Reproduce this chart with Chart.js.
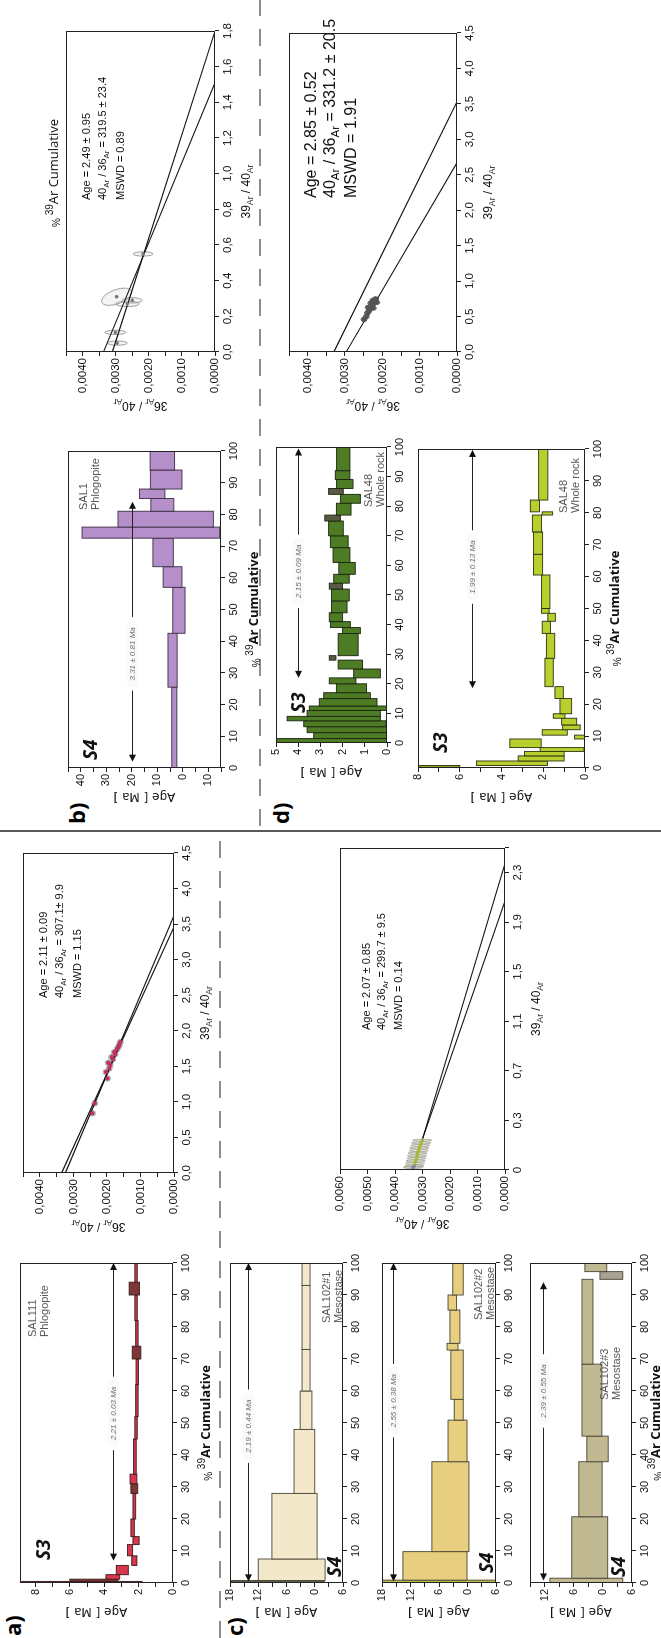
<!DOCTYPE html>
<html>
<head>
<meta charset="utf-8">
<title>Ar-Ar age spectra and isochrons</title>
<script src="https://cdn.jsdelivr.net/npm/chart.js@4.4.1/dist/chart.umd.min.js"></script>
<style>
  html, body { margin: 0; padding: 0; background: #fff; }
  body { width: 661px; height: 1638px; overflow: hidden; position: relative; }
  /* the figure is laid out in landscape and turned a quarter to the left */
  #land { position: absolute; left: 0; top: 0; width: 1638px; height: 661px;
          transform-origin: 0 0; transform: translate(0, 1638px) rotate(-90deg); }
  #land canvas, #land svg { position: absolute; }
  .tag { position: absolute; font: bold 22px "Open Sans", sans-serif; line-height: 24px; }
</style>
</head>
<body>
<div id="land">
  <svg width="1638" height="661" style="left:0;top:0">
    <line x1="807" y1="0" x2="807" y2="661" stroke="#222" stroke-width="1.5"/>
    <line x1="0" y1="220" x2="800" y2="220" stroke="#444" stroke-width="1.2" stroke-dasharray="17 13"/>
    <line x1="812" y1="260" x2="1638" y2="260" stroke="#444" stroke-width="1.2" stroke-dasharray="17 13"/>
  </svg>
  <div class="tag" style="left:2px;top:0px">a)</div>
  <div class="tag" style="left:814px;top:64px">b)</div>
  <div class="tag" style="left:2px;top:222px">c)</div>
  <div class="tag" style="left:814px;top:268px">d)</div>
</div>
<script>
// ---- age spectra: [start %39Ar, end %39Ar, age Ma, error Ma] ----
const sal111Steps = [
  [0, 0.5, 5.3, 3.5], [0.5, 1.2, 4.6, 1.4], [1.2, 2.6, 3.5, 0.4], [2.6, 5.5, 2.95, 0.35],
  [5.5, 8.5, 2.25, 0.15], [8.5, 12, 2.5, 0.15], [12, 14.5, 2.15, 0.18], [14.5, 20, 2.35, 0.1],
  [20, 28, 2.25, 0.08], [28, 31, 2.25, 0.2], [31, 34, 2.3, 0.2], [34, 45, 2.22, 0.08],
  [45, 52, 2.15, 0.07], [52, 62, 2.1, 0.07], [62, 70, 2.08, 0.07], [70, 74, 2.12, 0.25],
  [74, 82, 2.1, 0.07], [82, 90, 2.15, 0.07], [90, 94, 2.25, 0.3], [94, 100, 2.15, 0.07]
];
const sal111Dark = [0, 1, 9, 15, 18];
const sal111Plateau = [7, 100, 3.5, 53, '2.21 ± 0.03 Ma'];

const sal1Steps = [
  [0, 25.5, 3.3, 1.0], [25.5, 42.5, 4.0, 1.8], [42.5, 57, 1.5, 2.4], [57, 63.5, 4.0, 3.7],
  [63.5, 72.5, 7.7, 4.0], [72.5, 76, 12.5, 27], [76, 81, 6.7, 18.7], [81, 85, 8, 4.5],
  [85, 88, 12, 5], [88, 94, 6.5, 6.2], [94, 100, 8, 4.8]
];
const sal1Plateau = [2, 84, 20, 36, '3.31 ± 0.81 Ma'];

const sal102aSteps = [
  [0, 0.8, 8, 10], [0.8, 7.5, 4.9, 7.1], [7.5, 28, 4.3, 4.8], [28, 48, 2.2, 2.2],
  [48, 60, 1.85, 1.25], [60, 73, 1.85, 0.85], [73, 93, 1.85, 0.85], [93, 100, 1.85, 0.85]
];
const sal102aPlateau = [0.5, 100, 14.2, 49, '2.19 ± 0.44 Ma'];

const sal102bSteps = [
  [0, 0.9, 6, 12.5], [0.9, 9.8, 6.85, 6.75], [9.8, 37.9, 3.6, 3.9], [37.9, 50.9, 2.1, 2.0],
  [50.9, 57.4, 1.85, 0.95], [57.4, 72.8, 2.2, 1.3], [72.8, 74.9, 3.15, 1.15], [74.9, 85.3, 2.65, 1.05],
  [85.3, 90, 3.2, 0.9], [90, 100, 2.0, 1.1]
];
const sal102bPlateau = [0.5, 100, 15.7, 57, '2.55 ± 0.38 Ma'];

const sal102cSteps = [
  [0, 1.5, 3.4, 7.5], [1.5, 20.7, 2.7, 3.7], [20.7, 37.9, 2.55, 2.4], [37.9, 45.9, 1.1, 2.2],
  [45.9, 68.4, 2.25, 2.05], [68.4, 94.9, 3.17, 1.13], [94.9, 97.3, -1.75, 2.35], [97.3, 100, 1.45, 2.25]
];
const sal102cPlateau = [0.8, 94, 12.3, 60, '2.39 ± 0.55 Ma'];

const sal48aSteps = [
  [0, 1.5, 2.5, 2.5], [1.5, 3.5, 1.65, 1.65], [3.5, 5.5, 1.8, 1.8], [5.5, 7.5, 1.9, 1.85],
  [7.5, 9, 2.4, 2.1], [9, 11, 1.95, 1.65], [11, 12.5, 1.75, 1.75], [12.5, 15, 1.75, 1.3],
  [15, 17, 1.8, 1.05], [17, 20, 1.6, 0.68], [20, 22, 2.0, 0.6], [22, 25, 0.9, 0.6],
  [25, 28, 1.65, 0.55], [28, 29.5, 2.45, 0.15], [29.5, 37, 1.75, 0.45], [37, 39, 1.6, 0.4],
  [39, 41, 2.1, 0.45], [41, 44, 2.3, 0.3], [44, 48, 2.15, 0.35], [48, 52, 2.1, 0.4],
  [52, 54, 2.3, 0.3], [54, 57, 2.05, 0.35], [57, 61, 1.8, 0.37], [61, 66, 2.05, 0.38],
  [66, 70, 2.15, 0.4], [70, 75, 2.3, 0.33], [75, 77, 2.45, 0.35], [77, 81, 1.95, 0.33],
  [81, 84, 1.65, 0.45], [84, 86, 2.3, 0.33], [86, 89, 1.9, 0.37], [89, 92, 2.0, 0.33],
  [92, 100, 1.97, 0.3]
];
const sal48aDark = [13, 20, 26, 29];
const sal48aPlateau = [22, 99.5, 4.0, 58, '2.15 ± 0.09 Ma'];

const sal48bSteps = [
  [0, 0.8, 7.2, 1.2], [0.8, 2.2, 3.5, 1.7], [2.2, 3.8, 2.1, 1.1], [3.8, 5.2, 1.95, 0.95],
  [5.2, 6.4, 1.1, 1.05], [6.4, 9.1, 2.85, 0.75], [9.1, 10.3, 0.25, 0.25], [10.3, 12, 1.45, 0.6],
  [12, 13.5, 0.65, 0.42], [13.5, 15.6, 0.76, 0.36], [15.6, 17, 1.24, 0.28], [17, 21.8, 0.92, 0.28],
  [21.8, 25.5, 1.24, 0.2], [25.5, 34.4, 1.72, 0.2], [34.4, 42.2, 1.65, 0.2], [42.2, 46, 1.85, 0.2],
  [46, 48.5, 1.6, 0.18], [48.5, 50, 1.9, 0.18], [50, 60.5, 1.88, 0.2], [60.5, 67, 2.25, 0.22],
  [67, 74, 2.25, 0.22], [74, 79.3, 2.3, 0.22], [79.3, 80.3, 1.8, 0.25], [80.3, 84, 2.4, 0.22],
  [84, 100, 2.0, 0.22]
];
const sal48bPlateau = [25, 99.7, 5.4, 63, '1.99 ± 0.13 Ma'];

// ---- isochrons: points [39Ar/40Ar, 36Ar/40Ar, err x, err y, tilt], envelope lines [x, y] ----
const isoAPts = [
  [0.84, 0.00243, 0.04, 0.00009], [0.98, 0.00236, 0.04, 0.00009], [1.33, 0.00198, 0.04, 0.00009],
  [1.42, 0.00203, 0.04, 0.00009], [1.47, 0.00193, 0.04, 0.00009], [1.52, 0.0019, 0.04, 0.00009],
  [1.55, 0.00196, 0.04, 0.00009], [1.6, 0.00182, 0.04, 0.00009], [1.63, 0.00186, 0.04, 0.00009],
  [1.67, 0.00175, 0.04, 0.00009], [1.7, 0.00178, 0.04, 0.00009], [1.74, 0.0017, 0.04, 0.00009],
  [1.77, 0.00166, 0.04, 0.00009], [1.8, 0.00163, 0.04, 0.00009], [1.84, 0.0016, 0.04, 0.00009]
];
const isoALines = [[[0, 0.00335], [3.46, 0]], [[0, 0.00324], [3.62, 0]]];

const isoBPts = [
  [0.05, 0.00295, 0.012, 0.0003], [0.11, 0.00301, 0.012, 0.00032], [0.27, 0.00265, 0.015, 0.00036],
  [0.29, 0.0025, 0.015, 0.0003], [0.31, 0.00297, 0.04, 0.00048, -20], [0.55, 0.00217, 0.012, 0.0003]
];
const isoBLines = [[[0, 0.00337], [1.51, 0]], [[0, 0.0031], [1.8, 0]]];

const isoCPts = [
  [0.02, 0.00335, 0.008, 0.00035], [0.03, 0.0033, 0.008, 0.00035], [0.05, 0.00328, 0.008, 0.00035],
  [0.07, 0.00325, 0.008, 0.00035], [0.09, 0.00322, 0.008, 0.00035], [0.11, 0.0032, 0.008, 0.00035],
  [0.13, 0.00318, 0.008, 0.00035], [0.15, 0.00314, 0.008, 0.00035], [0.17, 0.00312, 0.008, 0.00035],
  [0.19, 0.00308, 0.008, 0.00035], [0.21, 0.00305, 0.008, 0.00035], [0.23, 0.00301, 0.008, 0.00035]
];
const isoCLines = [[[0.24, 0.003], [2.37, 0]], [[0.24, 0.003], [2.08, 0]]];
const isoCTicks = ['0', '0,3', '0,7', '1,1', '1,5', '1,9', '2,3'];

const isoDPts = [
  [0.46, 0.00249, 0.03, 0.00008], [0.5, 0.00243, 0.03, 0.00008], [0.55, 0.0024, 0.03, 0.00008],
  [0.58, 0.00236, 0.03, 0.00008], [0.61, 0.00233, 0.03, 0.00008], [0.63, 0.00238, 0.03, 0.00008],
  [0.65, 0.00229, 0.03, 0.00008], [0.67, 0.00226, 0.03, 0.00008], [0.69, 0.00231, 0.03, 0.00008],
  [0.71, 0.00222, 0.03, 0.00008], [0.73, 0.00225, 0.03, 0.00008], [0.75, 0.00218, 0.03, 0.00008],
  [0.62, 0.00224, 0.03, 0.00008], [0.7, 0.00215, 0.03, 0.00008]
];
const isoDLines = [[[0, 0.0033], [3.53, 0]], [[0, 0.00297], [2.67, 0]]];

// ---- helpers ----
const SANS = '"Liberation Sans", Arial, sans-serif';
const OPEN = '"Open Sans", sans-serif';
const px = (s, w) => (w ? w + ' ' : '') + s + 'px ' + SANS;
const comma = (v, d) => v.toFixed(d).replace('.', ',');
const land = document.getElementById('land');
const decoMap = new Map();

const cumTitle = [['%', px(10), 2], [' ', px(10)], ['39', px(10), -5], ['Ar Cumulative', 'bold 13px ' + OPEN]];
const ageTitle = [['Age [ Ma ]', '12px "DejaVu Sans", sans-serif']];
const ratioTitle = (a, b, s) => [[a, px(s)], ['Ar', px(s * 0.72), s * 0.28], [' / ', px(s)], [b, px(s)], ['Ar', px(s * 0.72), s * 0.28]];

function rich(ctx, parts, x, y, align, rot) {
  ctx.save();
  ctx.translate(x, y);
  if (rot) ctx.rotate(rot);
  ctx.textBaseline = 'alphabetic';
  ctx.textAlign = 'left';
  let w = 0;
  parts.forEach(p => { ctx.font = p[1]; w += ctx.measureText(p[0]).width; });
  let cx = align === 'center' ? -w / 2 : align === 'right' ? -w : 0;
  parts.forEach(p => { ctx.font = p[1]; ctx.fillText(p[0], cx, p[2] || 0); cx += ctx.measureText(p[0]).width; });
  ctx.restore();
}

function plateauArrow(ctx, x, y, pl) {
  const [p0, p1, lev, at, txt] = pl;
  const yy = Math.round(y.getPixelForValue(lev)) + 0.5;
  const xa = x.getPixelForValue(p0), xb = x.getPixelForValue(p1), xm = x.getPixelForValue(at);
  ctx.font = 'italic 8px ' + SANS;
  const tw = ctx.measureText(txt).width, g = tw / 2 + 10;
  ctx.strokeStyle = '#222';
  ctx.lineWidth = 1;
  ctx.beginPath();
  ctx.moveTo(xa + 4, yy); ctx.lineTo(xm - g, yy);
  ctx.moveTo(xm + g, yy); ctx.lineTo(xb - 4, yy);
  ctx.stroke();
  ctx.fillStyle = '#111';
  [[xa, 1], [xb, -1]].forEach(([t, d]) => {
    ctx.beginPath();
    ctx.moveTo(t, yy); ctx.lineTo(t + 7 * d, yy - 3.5); ctx.lineTo(t + 7 * d, yy + 3.5);
    ctx.closePath(); ctx.fill();
  });
  ctx.save();
  ctx.shadowColor = '#fff';
  ctx.shadowBlur = 5;
  ctx.fillStyle = 'rgba(250,250,250,0.95)';
  ctx.beginPath();
  ctx.roundRect(xm - tw / 2 - 7, yy - 6, tw + 14, 12, 6);
  ctx.fill();
  ctx.restore();
  ctx.fillStyle = '#6d6d6d';
  ctx.textAlign = 'center';
  ctx.textBaseline = 'middle';
  ctx.fillText(txt, xm, yy + 0.5);
}

// boxes, ellipses, frame and labels drawn on top of the chart's own scales
const decoPlugin = {
  id: 'deco',
  beforeDatasetsDraw(chart) {
    const { ctx, chartArea: a, scales: { x, y } } = chart;
    ctx.save();
    ctx.beginPath();
    ctx.rect(a.left, a.top, a.width, a.height);
    ctx.clip();
    chart.data.datasets.forEach(ds => {
      if (ds.stepFill) ds.data.forEach((p, i) => {
        const l = x.getPixelForValue(p.x0), r = x.getPixelForValue(p.x1);
        const t = y.getPixelForValue(p.y + p.e), b = y.getPixelForValue(p.y - p.e);
        ctx.fillStyle = ds.stepDark.includes(i) ? ds.darkFill : ds.stepFill;
        ctx.fillRect(l, t, r - l, b - t);
        ctx.lineWidth = 0.9;
        ctx.strokeStyle = ds.stepLine;
        ctx.strokeRect(l, t, r - l, b - t);
      });
      if (ds.ring) ds.data.forEach(p => {
        const cx = x.getPixelForValue(p.x), cy = y.getPixelForValue(p.y);
        const rx = Math.abs(x.getPixelForValue(p.x + p.ex) - cx);
        const ry = Math.abs(y.getPixelForValue(p.y + p.ey) - cy);
        ctx.beginPath();
        ctx.ellipse(cx, cy, rx, ry, p.rot * Math.PI / 180, 0, 2 * Math.PI);
        ctx.fillStyle = ds.ringFill;
        ctx.fill();
        ctx.lineWidth = 0.8;
        ctx.strokeStyle = ds.ring;
        ctx.stroke();
      });
    });
    ctx.restore();
  },
  afterDraw(chart) {
    const o = decoMap.get(chart.canvas) || {};
    const { ctx, chartArea: a, scales: { x, y } } = chart;
    ctx.save();
    ctx.strokeStyle = '#222';
    ctx.lineWidth = 1;
    ctx.strokeRect(Math.round(a.left) + 0.5, Math.round(a.top) + 0.5, Math.round(a.width) - 1, Math.round(a.height) - 1);
    if (o.plateau) plateauArrow(ctx, x, y, o.plateau);
    ctx.fillStyle = '#111';
    if (o.xTitle) rich(ctx, o.xTitle, (a.left + a.right) / 2, a.bottom + o.xDy, 'center');
    if (o.yTitle) rich(ctx, o.yTitle, a.left - o.yDx, (a.top + a.bottom) / 2, 'center', -Math.PI / 2);
    (o.texts || []).forEach(t => {
      ctx.fillStyle = t.c || '#111';
      rich(ctx, t.p, a.left + t.x, a.top + t.y, t.a || 'left');
    });
    ctx.restore();
  }
};

function axis(pos, min, max, step, cb, size) {
  return {
    type: 'linear', position: pos, min, max, bounds: 'data',
    grid: { drawOnChartArea: false, drawTicks: true, tickLength: 4, color: '#222', lineWidth: 1 },
    border: { display: false },
    ticks: { stepSize: step, includeBounds: false, autoSkip: false, maxRotation: 0, minRotation: 0,
             padding: 2, color: '#111', font: { family: 'Liberation Sans', size: size || 11 }, callback: cb }
  };
}

function build(box, m, scales, datasets, deco) {
  const cv = document.createElement('canvas');
  const w = box[2] + m[0] + m[2], h = box[3] + m[1] + m[3];
  cv.width = w;
  cv.height = h;
  Object.assign(cv.style, { left: (box[0] - m[0]) + 'px', top: (box[1] - m[1]) + 'px', width: w + 'px', height: h + 'px' });
  land.appendChild(cv);
  decoMap.set(cv, deco);
  scales.x.afterFit = s => { s.height = m[3]; };
  scales.y.afterFit = s => { s.width = m[0]; };
  return new Chart(cv, {
    type: 'scatter',
    data: { datasets },
    options: {
      responsive: false, animation: false, devicePixelRatio: 1, events: [],
      layout: { padding: { left: 0, top: m[1], right: m[2], bottom: 0 } },
      plugins: { legend: { display: false }, tooltip: { enabled: false } },
      scales
    },
    plugins: [decoPlugin]
  });
}

function spectrum(o) {
  const texts = [
    { p: [[o.sample[0], px(11)]], x: o.sample[2], y: o.sample[3], c: '#555' },
    { p: [[o.sample[1], px(11)]], x: o.sample[2], y: o.sample[3] + 12, c: '#555' },
    { p: [[o.stage[0], 'bold italic 19px ' + OPEN]], x: o.stage[1], y: o.stage[2] }
  ];
  build(o.box, [52, 10, 14, 44], {
    x: axis('bottom', 0, 100, 10, v => v),
    y: axis('left', o.y[0], o.y[1], o.y[2], o.yLabel)
  }, [{
    data: o.steps.map(s => ({ x: (s[0] + s[1]) / 2, y: s[2], x0: s[0], x1: s[1], e: s[3] })),
    pointRadius: 0, stepFill: o.fill, darkFill: o.darkFill || o.fill, stepDark: o.dark || [], stepLine: o.line
  }], {
    plateau: o.plateau, texts, yTitle: ageTitle, yDx: 25,
    xTitle: o.xDy ? cumTitle : null, xDy: o.xDy
  });
}

function stat(age, r, mswd, s, x, y0, dy) {
  return [
    { p: [['Age = ' + age, px(s)]], x, y: y0 },
    { p: [['40', px(s)], ['Ar', px(s * 0.72), s * 0.28], [' / ', px(s)], ['36', px(s)], ['Ar', px(s * 0.72), s * 0.28], [' = ' + r, px(s)]], x, y: y0 + dy },
    { p: [['MSWD = ' + mswd, px(s)]], x, y: y0 + dy * 2 + 2 }
  ];
}

function isochron(o) {
  const yl = v => (o.ystep < 0.001 && Math.round(v / 0.0005) % 2 !== 0) ? '' : comma(v, 4);
  build(o.box, [74, 26, 14, 46], {
    x: axis('bottom', 0, o.x[0], o.x[1], o.xLabel, 11.5),
    y: axis('left', 0, o.ymax, o.ystep, yl, 11.5)
  }, [
    {
      data: o.pts.map(p => ({ x: p[0], y: p[1], ex: p[2], ey: p[3], rot: p[4] || 0 })),
      pointRadius: o.dot, pointBackgroundColor: o.dotColor, pointBorderWidth: 0,
      ring: o.ring, ringFill: o.ringFill
    },
    ...o.lines.map(l => ({ data: l.map(q => ({ x: q[0], y: q[1] })), showLine: true, pointRadius: 0, borderColor: '#111', borderWidth: 1.1 }))
  ], {
    texts: o.texts, xTitle: ratioTitle('39', '40', 12), xDy: 35,
    yTitle: ratioTitle('36', '40', 12), yDx: 50
  });
}

const pct1 = v => comma(v, 1);
const evens = v => (Math.abs(v % 2) < 1e-9 ? v : '');
const sixes = v => (Math.abs(v % 6) < 1e-9 ? Math.abs(v) : '');

// ---- a) SAL111 ----
spectrum({ box: [55, 20, 320, 153], steps: sal111Steps, dark: sal111Dark,
  fill: '#d8384f', darkFill: '#7e3636', line: '#3b1c1c',
  y: [0, 8.9, 1], yLabel: evens, plateau: sal111Plateau,
  sample: ['SAL111', 'Phlogopite', 246, 16], stage: ['S3', 23, 30], xDy: 37 });

isochron({ box: [465, 23, 320, 151], x: [4.5, 0.5], xLabel: pct1, ymax: 0.0045, ystep: 0.0005,
  pts: isoAPts, lines: isoALines, dot: 2.2, dotColor: '#c2305c', ring: '#86a8a2', ringFill: 'rgba(190,215,205,0.35)',
  texts: stat('2.11 ± 0.09', '307.1± 9.9', '1.15', 11, 175, 24, 16) });

// ---- c) SAL102 ----
spectrum({ box: [55, 230, 320, 113], steps: sal102aSteps, dark: [0],
  fill: '#f3e8c9', darkFill: '#5d5a4c', line: '#4a4536',
  y: [-6, 18, 3], yLabel: sixes, plateau: sal102aPlateau,
  sample: ['SAL102#1', 'Mesostase', 260, 100], stage: ['S4', 6, 111] });

spectrum({ box: [55, 382, 320, 114], steps: sal102bSteps, dark: [0],
  fill: '#e7cf7f', darkFill: '#b8bb45', line: '#4a4536',
  y: [-6, 18, 3], yLabel: sixes, plateau: sal102bPlateau,
  sample: ['SAL102#2', 'Mesostase', 263, 100], stage: ['S4', 10, 111] });

spectrum({ box: [55, 530, 320, 102], steps: sal102cSteps, dark: [6],
  fill: '#c0b992', darkFill: '#a6a392', line: '#4a4536',
  y: [-6, 15, 3], yLabel: sixes, plateau: sal102cPlateau,
  sample: ['SAL102#3', 'Mesostase', 183, 78], stage: ['S4', 6, 95], xDy: 28 });

isochron({ box: [468, 340, 322, 165], x: [2.49, 2.3 / 6],
  xLabel: (v) => { const k = v / (2.3 / 6); return Math.abs(k - Math.round(k)) < 1e-6 ? isoCTicks[Math.round(k)] : ''; },
  ymax: 0.006, ystep: 0.001,
  pts: isoCPts, lines: isoCLines, dot: 1.8, dotColor: ['#8087a8', '#8087a8', '#a9b834', '#a9b834', '#a9b834', '#a9b834', '#a9b834', '#a9b834', '#a9b834', '#a9b834', '#a9b834', '#a9b834'],
  ring: '#9d9d90', ringFill: 'rgba(200,200,180,0.35)',
  texts: stat('2.07 ± 0.85', '299.7 ± 9.5', '0.14', 11, 140, 30, 15) });

// ---- b) SAL1 ----
spectrum({ box: [870, 68, 317, 153], steps: sal1Steps,
  fill: '#b58fca', line: '#3c2f44',
  y: [-15, 45, 5], yLabel: v => (Math.abs(v % 10) < 1e-9 ? Math.abs(v) : ''), plateau: sal1Plateau,
  sample: ['SAL1', 'Phlogopite', 258, 19], stage: ['S4', 8, 29], xDy: 37 });

const isoBTexts = stat('2.49 ± 0.95', '319.5 ± 23.4', '0.89', 11, 152, 24, 16);
isoBTexts.push({ p: [['%', px(10), 2], [' ', px(10)], ['39', px(10), -5], ['Ar Cumulative', '13px ' + OPEN]], x: 179, y: -8, a: 'center' });
isochron({ box: [1286, 66, 321, 149], x: [1.8, 0.2], xLabel: pct1, ymax: 0.0045, ystep: 0.0005,
  pts: isoBPts, lines: isoBLines, dot: 1.8, dotColor: '#777', ring: '#8a8a8a', ringFill: 'rgba(220,220,220,0.3)',
  texts: isoBTexts });

// ---- d) SAL48 ----
spectrum({ box: [895, 276, 296, 111], steps: sal48aSteps, dark: sal48aDark,
  fill: '#4e7c24', darkFill: '#5a5a44', line: '#1c2610',
  y: [0, 5, 1], yLabel: v => v, plateau: sal48aPlateau,
  sample: ['SAL48', 'Whole rock', 236, 96], stage: ['S3', 30, 29] });

spectrum({ box: [870, 418, 319, 167], steps: sal48bSteps, dark: [0],
  fill: '#b8cf2d', darkFill: '#8f9a26', line: '#2f3312',
  y: [0, 8, 1], yLabel: evens, plateau: sal48bPlateau,
  sample: ['SAL48', 'Whole rock', 255, 149], stage: ['S3', 15, 29], xDy: 34 });

isochron({ box: [1286, 289, 319, 168], x: [4.5, 0.5], xLabel: pct1, ymax: 0.0045, ystep: 0.0005,
  pts: isoDPts, lines: isoDLines, dot: 2.2, dotColor: '#555', ring: '#444', ringFill: 'rgba(90,90,90,0.6)',
  texts: stat('2.85 ± 0.52', '331.2 ± 20.5', '1.91', 16, 154, 27, 19) });
</script>
</body>
</html>
